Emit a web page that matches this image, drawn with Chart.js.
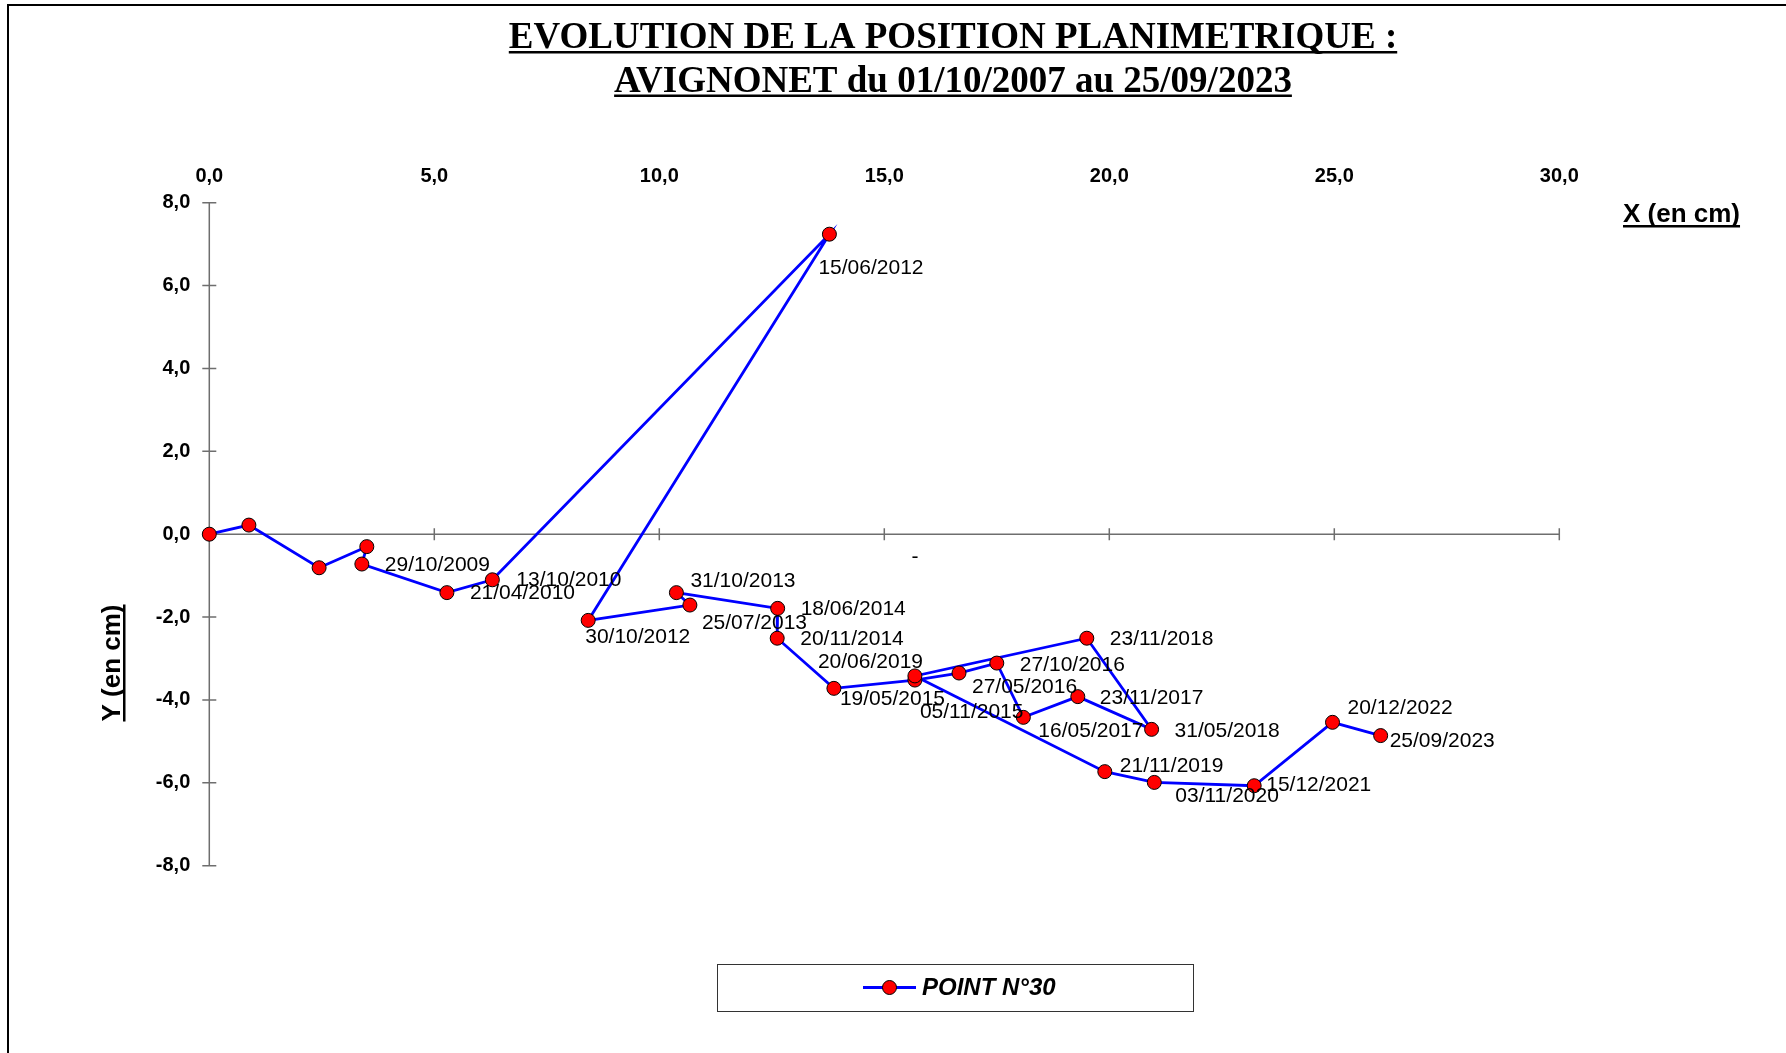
<!DOCTYPE html>
<html>
<head>
<meta charset="utf-8">
<script src="https://cdn.jsdelivr.net/npm/chart.js@4/dist/chart.umd.min.js"></script>
<style>
  html, body { margin: 0; padding: 0; background: #fff; }
  #wrap { width: 1786px; height: 1053px; }
</style>
</head>
<body>
<div id="wrap"><canvas id="myChart" width="1786" height="1053"></canvas></div>
<script>
// releves du point 30 (x, y en cm)
var xValues = [0, 0.88, 2.44, 3.50, 3.39, 5.28, 6.29, 13.78, 8.42, 10.68, 10.38, 12.63, 12.62, 13.88,
  15.68, 16.66, 17.50, 18.09, 19.30, 20.94, 19.50, 15.68, 19.90, 21.00, 23.22, 24.96, 26.03];
var yValues = [0, 0.22, -0.81, -0.30, -0.72, -1.41, -1.10, 7.24, -2.08, -1.71, -1.41, -1.79, -2.51, -3.72,
  -3.52, -3.35, -3.11, -4.42, -3.92, -4.71, -2.51, -3.42, -5.73, -5.99, -6.07, -4.54, -4.86];
var dates = ['', '', '', '', '29/10/2009', '21/04/2010', '13/10/2010', '15/06/2012', '30/10/2012',
  '25/07/2013', '31/10/2013', '18/06/2014', '20/11/2014', '19/05/2015', '05/11/2015', '27/05/2016',
  '27/10/2016', '16/05/2017', '23/11/2017', '31/05/2018', '23/11/2018', '20/06/2019', '21/11/2019',
  '03/11/2020', '15/12/2021', '20/12/2022', '25/09/2023'];
var xTicks = [0, 5, 10, 15, 20, 25, 30];
var yTicks = [-8, -6, -4, -2, 0, 2, 4, 6, 8];
var titre = ['EVOLUTION DE LA POSITION PLANIMETRIQUE :', 'AVIGNONET du 01/10/2007 au 25/09/2023'];
var serie = 'POINT N°30';

// decalage des etiquettes (px) par rapport au point
var labelOffsets = [[0,0],[0,0],[0,0],[0,0],[23,1],[23,1],[24,0],[-11,34],[-3,17],[12,18],[14,-11],
  [23,1],[23,1],[6,11],[5,32],[13,14],[23,2],[15,14],[22,2],[23,2],[23,1],[-97,-14],[15,-5],[21,14],
  [12,-1],[15,-14],[9,6]];

var AXIS_COLOR = '#6e6e6e';
var fmt = function(v){ return Number(v).toFixed(1).replace('.', ','); };

function underlineText(ctx, text, x, y, align, offset, thick) {
  var w = ctx.measureText(text).width;
  var x0 = align === 'center' ? x - w / 2 : x;
  ctx.fillText(text, x, y);
  ctx.fillRect(x0, y + offset, w, thick);
}

var decor = {
  id: 'decor',
  beforeDatasetsDraw: function(chart) {
    var ctx = chart.ctx, xs = chart.scales.x, ys = chart.scales.y;
    var x0 = xs.getPixelForValue(0), y0 = ys.getPixelForValue(0);
    ctx.save();
    ctx.strokeStyle = AXIS_COLOR;
    ctx.lineWidth = 1.5;
    ctx.beginPath();
    ctx.moveTo(x0, ys.getPixelForValue(8));
    ctx.lineTo(x0, ys.getPixelForValue(-8));
    ctx.moveTo(x0, y0);
    ctx.lineTo(xs.getPixelForValue(30), y0);
    yTicks.forEach(function(t){
      var p = ys.getPixelForValue(t);
      ctx.moveTo(x0 - 7, p); ctx.lineTo(x0 + 7, p);
    });
    xTicks.forEach(function(t){
      if (t === 0) return;
      var p = xs.getPixelForValue(t);
      ctx.moveTo(p, y0 - 6); ctx.lineTo(p, y0 + 6);
    });
    ctx.stroke();
    ctx.restore();
  },
  afterDraw: function(chart) {
    var ctx = chart.ctx, xs = chart.scales.x, ys = chart.scales.y;
    ctx.save();
    ctx.fillStyle = '#000';

    // etiquettes de dates
    ctx.font = '21px "Liberation Sans", Arial, sans-serif';
    ctx.textAlign = 'left';
    ctx.textBaseline = 'middle';
    for (var i = 0; i < dates.length; i++) {
      if (!dates[i]) continue;
      var px = xs.getPixelForValue(xValues[i]), py = ys.getPixelForValue(yValues[i]);
      ctx.fillText(dates[i], px + labelOffsets[i][0], py + labelOffsets[i][1]);
    }
    ctx.textAlign = 'center';
    ctx.fillText('-', xs.getPixelForValue(15.68), ys.getPixelForValue(0) + 23);

    // titre
    ctx.font = 'bold 37px "Liberation Serif", "Times New Roman", serif';
    ctx.textBaseline = 'alphabetic';
    underlineText(ctx, titre[0], 953, 48, 'center', 3, 2.5);
    underlineText(ctx, titre[1], 953, 91.5, 'center', 3, 2.5);

    // titres des axes
    ctx.font = 'bold 26px "Liberation Sans", Arial, sans-serif';
    ctx.textAlign = 'left';
    underlineText(ctx, 'X (en cm)', 1623, 222, 'left', 3, 2.5);
    ctx.save();
    ctx.translate(120, 663);
    ctx.rotate(-Math.PI / 2);
    ctx.textAlign = 'center';
    underlineText(ctx, 'Y (en cm)', 0, 0, 'center', 3, 2.5);
    ctx.restore();

    // legende
    ctx.strokeStyle = '#333';
    ctx.lineWidth = 1;
    ctx.strokeRect(717.5, 964.5, 476, 47);
    ctx.strokeStyle = '#0000FF';
    ctx.lineWidth = 2.8;
    ctx.beginPath();
    ctx.moveTo(863, 987.5); ctx.lineTo(916, 987.5);
    ctx.stroke();
    ctx.beginPath();
    ctx.arc(889.5, 987.5, 7, 0, Math.PI * 2);
    ctx.fillStyle = '#FF0000';
    ctx.fill();
    ctx.strokeStyle = '#000';
    ctx.lineWidth = 1;
    ctx.stroke();
    ctx.fillStyle = '#000';
    ctx.font = 'italic bold 24px "Liberation Sans", Arial, sans-serif';
    ctx.textAlign = 'left';
    ctx.textBaseline = 'middle';
    ctx.fillText(serie, 922, 988);

    // cadre
    ctx.strokeStyle = '#000';
    ctx.lineWidth = 2;
    ctx.beginPath();
    ctx.moveTo(8, 1053); ctx.lineTo(8, 5); ctx.lineTo(1786, 5);
    ctx.stroke();
    ctx.restore();
  }
};

var tickFont = { family: '"Liberation Sans", Arial, sans-serif', size: 20, weight: 'bold' };

const ctx = document.getElementById('myChart');
const myChart = new Chart(ctx, {
  type: 'scatter',
  data: {
    datasets: [{
      label: serie,
      data: xValues.map(function(x, i){ return { x: x, y: yValues[i] }; }),
      showLine: true,
      borderColor: '#0000FF',
      borderWidth: 2.8,
      pointBackgroundColor: '#FF0000',
      pointBorderColor: '#000',
      pointBorderWidth: 1,
      pointRadius: 7,
      tension: 0,
      clip: false
    }]
  },
  options: {
    responsive: false,
    animation: false,
    layout: { padding: { left: 109.3, top: 142.7, right: 226.7, bottom: 187.3 } },
    scales: {
      x: {
        type: 'linear', position: 'top', min: 0, max: 30,
        afterBuildTicks: function(s){ s.ticks = xTicks.map(function(v){ return { value: v }; }); },
        ticks: { callback: fmt, font: tickFont, color: '#000', padding: 14, maxRotation: 0, autoSkip: false },
        grid: { display: false, drawTicks: false },
        border: { display: false },
        afterFit: function(s){ s.height = 60; }
      },
      y: {
        type: 'linear', position: 'left', min: -8, max: 8,
        afterBuildTicks: function(s){ s.ticks = yTicks.map(function(v){ return { value: v }; }); },
        ticks: { callback: fmt, font: tickFont, color: '#000', padding: 19, autoSkip: false },
        grid: { display: false, drawTicks: false },
        border: { display: false },
        afterFit: function(s){ s.width = 100; }
      }
    },
    plugins: { legend: { display: false }, tooltip: { enabled: false } }
  },
  plugins: [decor]
});
</script>
</body>
</html>
